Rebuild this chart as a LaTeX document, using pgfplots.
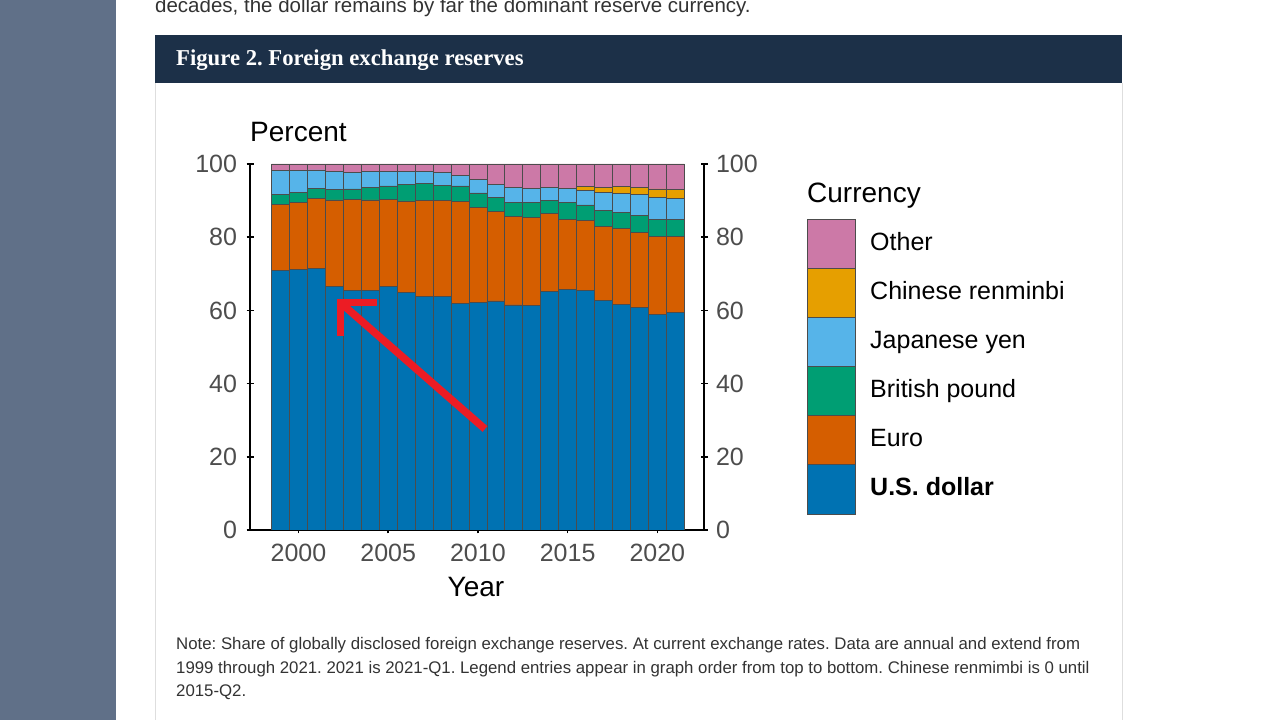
\documentclass[border=0pt]{standalone}
\usepackage{fontspec}
\setmainfont{Liberation Sans}
\newfontfamily\seriffont{Liberation Serif}
\usepackage{pgfplots}
\pgfplotsset{compat=1.18}
\usepackage{pgfplotstable}

\definecolor{usd}{RGB}{0,114,178}
\definecolor{eur}{RGB}{213,94,0}
\definecolor{gbp}{RGB}{0,158,115}
\definecolor{jpy}{RGB}{86,180,233}
\definecolor{cny}{RGB}{230,159,0}
\definecolor{oth}{RGB}{204,121,167}
\definecolor{strip}{RGB}{96,112,136}
\definecolor{navy}{RGB}{28,48,72}
\definecolor{tickgray}{RGB}{77,77,77}
\definecolor{bodytext}{RGB}{51,51,51}
\definecolor{framegray}{RGB}{222,222,222}
\definecolor{arrowred}{RGB}{236,28,36}

\newcommand\fs[1]{\fontsize{#1}{#1}\selectfont}
\frenchspacing

% share of disclosed reserves, percent
\pgfplotstableread{
year usd  eur  gbp jpy cny oth
1999 71.0 17.9 2.9 6.4 0   1.8
2000 71.1 18.3 2.8 6.1 0   1.7
2001 71.5 19.2 2.7 5.0 0   1.6
2002 66.5 23.7 2.8 4.9 0   2.1
2003 65.4 25.0 2.8 4.4 0   2.4
2004 65.5 24.7 3.4 4.3 0   2.1
2005 66.5 23.9 3.6 4.0 0   2.0
2006 65.0 24.9 4.5 3.5 0   2.1
2007 63.9 26.1 4.8 3.2 0   2.0
2008 63.8 26.2 4.2 3.5 0   2.3
2009 62.0 27.7 4.3 2.9 0   3.1
2010 62.2 26.0 3.9 3.7 0   4.2
2011 62.6 24.4 3.8 3.6 0   5.6
2012 61.5 24.1 4.0 4.1 0   6.3
2013 61.3 24.2 4.0 3.8 0   6.7
2014 65.2 21.2 3.7 3.5 0   6.4
2015 65.7 19.1 4.7 3.8 0   6.7
2016 65.4 19.1 4.3 4.0 1.1 6.1
2017 62.7 20.2 4.5 4.9 1.2 6.5
2018 61.7 20.7 4.4 5.2 1.9 6.1
2019 60.7 20.6 4.6 5.9 1.9 6.3
2020 59.0 21.2 4.7 6.0 2.3 6.8
2021 59.5 20.6 4.7 5.9 2.4 6.9
}\reserves

\begin{document}
\begin{tikzpicture}[x=1pt,y=1pt]
\path[use as bounding box] (0,0) rectangle (1280,720);
\begin{scope}
\clip (0,0) rectangle (1280,720);
\fill[white] (0,0) rectangle (1280,720);
\fill[strip] (0,0) rectangle (116,720);

% page text cut off at the top
\node[anchor=base west, inner sep=0, text=bodytext, font=\fs{20.5}] at (155,707.5)
  {decades, the dollar remains by far the dominant reserve currency.};

% figure frame and title bar
\draw[framegray, line width=1pt] (155,637) -- (155,0);
\draw[framegray, line width=1pt] (1122,637) -- (1122,0);
\fill[navy] (155,637) rectangle (1122,685);
\node[anchor=base west, inner sep=0, text=white, font=\seriffont\bfseries\fs{22.7}] at (176,654)
  {Figure 2. Foreign exchange reserves};

\pgfplotsset{
  reserveaxis/.style={
    at={(250pt,190pt)}, anchor=south west,
    scale only axis, width=454pt, height=366pt,
    xmin=1997.3, xmax=2022.6, ymin=0, ymax=100,
    tick style={black, line width=1.5pt},
    major tick length=7pt,
    tick align=outside,
    ytick={0,20,40,60,80,100},
    yticklabels={0,20,40,60,80,100},
    ticklabel style={font=\fs{25}, text=tickgray},
  },
  plainlines/.style={
    axis line style={-, draw=black, line width=1.5pt},
    every outer x axis line/.append style={-, draw=black},
    every outer y axis line/.append style={-, draw=black},
  },
}

\begin{axis}[
  reserveaxis,
  axis x line=bottom, axis y line=left,
  plainlines,
  xtick={2000,2005,2010,2015,2020},
  xticklabels={2000,2005,2010,2015,2020},
  yticklabel style={xshift=-6pt},
  xticklabel style={yshift=-7pt},
  ybar stacked, bar width=1,
  every axis plot/.append style={draw=black!70, line width=0.7pt},
]
\addplot[fill=usd] table[x=year, y=usd] {\reserves};
\addplot[fill=eur] table[x=year, y=eur] {\reserves};
\addplot[fill=gbp] table[x=year, y=gbp] {\reserves};
\addplot[fill=jpy] table[x=year, y=jpy] {\reserves};
\addplot[fill=cny] table[x=year, y=cny] {\reserves};
\addplot[fill=oth] table[x=year, y=oth] {\reserves};
\end{axis}

\begin{axis}[
  reserveaxis,
  axis x line=none, axis y line=right,
  plainlines,
  yticklabel style={xshift=5pt},
]
\end{axis}

% axis titles
\node[anchor=base west, inner sep=0, font=\fs{28}] at (250,578) {Percent};
\node[anchor=base, inner sep=0, font=\fs{28}] at (476,123) {Year};

% legend
\node[anchor=base west, inner sep=0, font=\fs{28}] at (807,517) {Currency};
\foreach \c/\lab/\top in {oth/Other/501, cny/Chinese renminbi/452, jpy/Japanese yen/403,
                          gbp/British pound/354, eur/Euro/305} {
  \filldraw[fill=\c, draw=black!70, line width=0.7pt] (807,\top) rectangle (855,\top-49);
  \node[anchor=mid west, inner sep=0, font=\fs{25}] at (870,\top-28.5) {\lab};
}
\filldraw[fill=usd, draw=black!70, line width=0.7pt] (807,256) rectangle (855,206);
\node[anchor=mid west, inner sep=0, font=\bfseries\fs{25}] at (870,227.5) {U.S. dollar};

% red annotation arrow
\draw[arrowred, line width=7pt, line join=miter, line cap=butt]
  (377,417.5) -- (340.5,417.5) -- (340.5,384);
\draw[arrowred, line width=7.5pt, line cap=butt] (342,416) -- (485,291);

% note
\begin{scope}[every node/.style={anchor=base west, inner sep=0, text=bodytext, font=\fs{16.8}}]
\node at (176,70) {Note: Share of globally disclosed foreign exchange reserves. At current exchange rates. Data are annual and extend from};
\node at (176,46) {1999 through 2021. 2021 is 2021-Q1. Legend entries appear in graph order from top to bottom. Chinese renmimbi is 0 until};
\node at (176,23) {2015-Q2.};
\end{scope}
\end{scope}
\end{tikzpicture}
\end{document}
